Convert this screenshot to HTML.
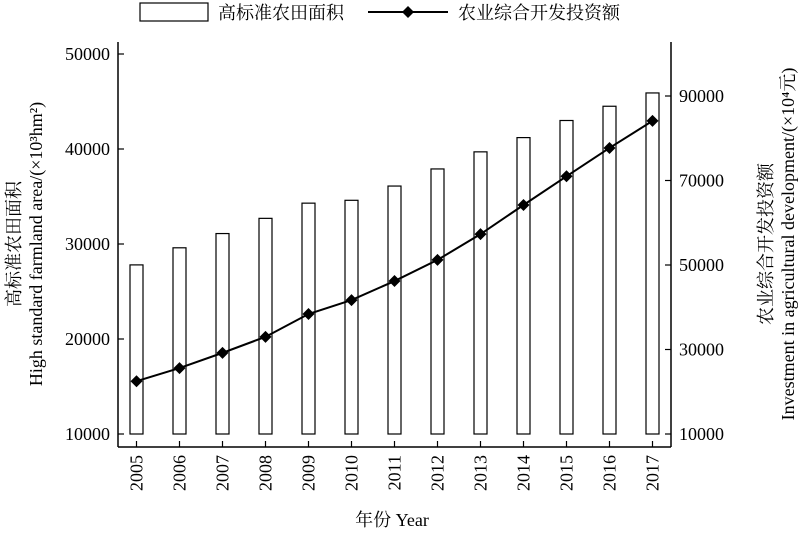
<!DOCTYPE html>
<html><head><meta charset="utf-8"><style>
body{margin:0;background:#fff;}
svg text{font-family:"Liberation Serif","Noto Serif CJK SC","Noto Sans CJK SC",serif;fill:#000;}
</style></head><body>
<svg width="800" height="533" viewBox="0 0 800 533" xmlns="http://www.w3.org/2000/svg">
<g id="g"></g>
</svg>
<script>
const years=["2005","2006","2007","2008","2009","2010","2011","2012","2013","2014","2015","2016","2017"];
const area=[27800,29600,31100,32700,34300,34600,36100,37900,39700,41200,43000,44500,45900];
const invest=[22500,25600,29200,33000,38400,41700,46200,51200,57300,64200,71000,77700,84100];
const leftTicks=[10000,20000,30000,40000,50000];
const rightTicks=[10000,30000,50000,70000,90000];
const NS="http://www.w3.org/2000/svg";
const g=document.getElementById('g');
function el(t,a,txt){const e=document.createElementNS(NS,t);for(const k in a)e.setAttribute(k,a[k]);if(txt!=null)e.textContent=txt;g.appendChild(e);return e;}
const xL=118,xR=671,yB=447;
const yl=v=>434-(v-10000)*380/40000;
const yr=v=>434-(v-10000)*338/80000;
const xc=i=>136.5+i*43;
let e;
e=el('line',{x1:xL,y1:42,x2:xL,y2:yB,stroke:'#000','stroke-width':1.5});

e=el('line',{x1:xR,y1:42,x2:xR,y2:yB,stroke:'#000','stroke-width':1.5});

e=el('line',{x1:xL,y1:yB,x2:xR,y2:yB,stroke:'#000','stroke-width':1.5});

leftTicks.forEach(v=>{const y=yl(v);
 e=el('line',{x1:xL,y1:y,x2:xL+6,y2:y,stroke:'#000','stroke-width':1.2});
 
 e=el('text',{x:xL-8,y:y+6,'text-anchor':'end','font-size':18},v);
 });
rightTicks.forEach(v=>{const y=yr(v);
 e=el('line',{x1:xR,y1:y,x2:xR-6,y2:y,stroke:'#000','stroke-width':1.2});
 
 e=el('text',{x:xR+8,y:y+6,'text-anchor':'start','font-size':18},v);
 });
years.forEach((yv,i)=>{const x=xc(i);
 e=el('line',{x1:x,y1:yB,x2:x,y2:yB-6,stroke:'#000','stroke-width':1.2});
 
 e=el('text',{x:0,y:0,'font-size':18,'text-anchor':'end',transform:`translate(${x+6},455) rotate(-90)`},yv);
 
 e=el('rect',{x:x-6.5,y:yl(area[i]),width:13,height:434-yl(area[i]),fill:'#fff',stroke:'#000','stroke-width':1.2});
 });
e=el('polyline',{points:invest.map((v,i)=>xc(i)+','+yr(v)).join(' '),fill:'none',stroke:'#000','stroke-width':2});

invest.forEach((v,i)=>{const x=xc(i),y=yr(v);
 e=el('polygon',{points:`${x},${y-6} ${x+6},${y} ${x},${y+6} ${x-6},${y}`,fill:'#000'});
 });
// legend
e=el('rect',{x:140,y:3,width:68,height:18,fill:'#fff',stroke:'#000','stroke-width':1.2});

e=el('text',{x:218,y:19,'font-size':18},'高标准农田面积');

e=el('line',{x1:368,y1:12,x2:448,y2:12,stroke:'#000','stroke-width':2});

e=el('polygon',{points:'408,6 414,12 408,18 402,12',fill:'#000'});

e=el('text',{x:458,y:19,'font-size':18},'农业综合开发投资额');

// axis titles
e=el('text',{x:392,y:526,'text-anchor':'middle','font-size':18},'年份 Year');

e=el('text',{'font-size':18,'text-anchor':'middle',transform:'translate(20,244) rotate(-90)'},'高标准农田面积');

e=el('text',{'font-size':18,'text-anchor':'middle',transform:'translate(42,244) rotate(-90)'},'High standard farmland area/(×10³hm²)');

e=el('text',{'font-size':18,'text-anchor':'middle',transform:'translate(772,244) rotate(-90)'},'农业综合开发投资额');

e=el('text',{'font-size':18,'text-anchor':'middle',transform:'translate(794,244) rotate(-90)'},'Investment in agricultural development/(×10⁴元)');

</script>
</body></html>
